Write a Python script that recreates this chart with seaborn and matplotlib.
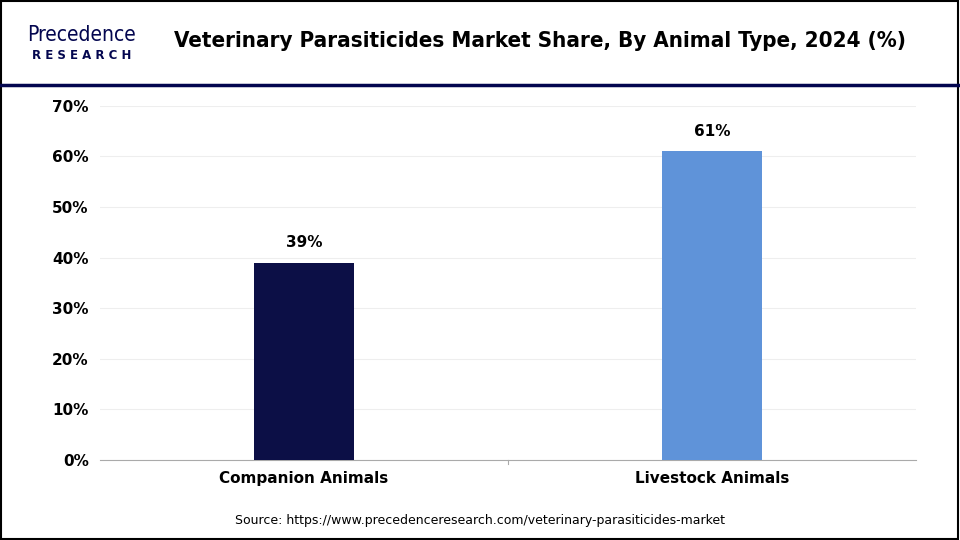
import pandas as pd
import seaborn as sns
import matplotlib.pyplot as plt
from matplotlib.patches import Rectangle
from matplotlib.lines import Line2D

categories = ['Companion Animals', 'Livestock Animals']
shares = [39, 61]
bar_colors = ['#03064F', '#4A90EE']
yticks = [0, 10, 20, 30, 40, 50, 60, 70]

df = pd.DataFrame({'type': categories, 'share': shares})

fig = plt.figure(figsize=(9.6, 5.4), dpi=100)
ax = fig.add_axes([0.104, 0.148, 0.850, 0.656])
sns.barplot(data=df, x='type', y='share', hue='type', palette=bar_colors,
            width=0.245, legend=False, ax=ax, zorder=3)

ax.set_xlim(-0.5, 1.5)
ax.set_ylim(0, 70)
ax.set_yticks(yticks)
ax.set_yticklabels([f'{t}%' for t in yticks], fontsize=11, fontweight='bold')
ax.tick_params(axis='x', labelsize=11, length=0, pad=8)
for lbl in ax.get_xticklabels():
    lbl.set_fontweight('bold')
ax.tick_params(axis='y', length=0, pad=8)
ax.set_xlabel('')
ax.set_ylabel('')
ax.grid(axis='y', color='#eeeeee', linewidth=0.8, zorder=0)
for s in ['top', 'right', 'left']:
    ax.spines[s].set_visible(False)
ax.spines['bottom'].set_color('#aaaaaa')
ax.axvline(0.5, ymin=-0.012, ymax=0, color='#aaaaaa', linewidth=0.8, clip_on=False)
for i, v in enumerate(shares):
    ax.text(i, v + 2.5, f'{v}%', ha='center', va='bottom', fontsize=11, fontweight='bold')

# header
fig.add_artist(Line2D([0, 1], [0.842, 0.842], color='#03064F', linewidth=2.5))
fig.text(0.562, 0.924, 'Veterinary Parasiticides Market Share, By Animal Type, 2024 (%)',
         ha='center', va='center', fontsize=16, fontweight='bold', fontstretch='condensed')
fig.text(0.085, 0.935, 'Precedence', ha='center', va='center', fontsize=15,
         color='#03064F', fontstretch='condensed')
fig.text(0.085, 0.897, 'R E S E A R C H', ha='center', va='center', fontsize=8.5,
         color='#03064F', fontweight='bold')
fig.text(0.5, 0.036, 'Source: https://www.precedenceresearch.com/veterinary-parasiticides-market',
         ha='center', va='center', fontsize=9)
fig.add_artist(Rectangle((0.001, 0.002), 0.997, 0.996, fill=False, edgecolor='black',
                         linewidth=1.5, transform=fig.transFigure))

fig.savefig('out.png', dpi=100)
